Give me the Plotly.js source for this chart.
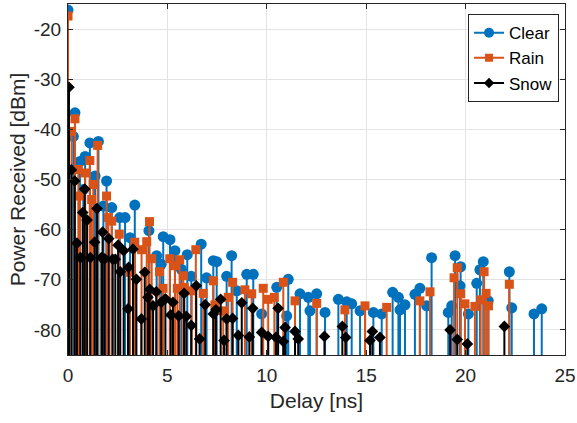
<!DOCTYPE html>
<html>
<head>
<meta charset="utf-8">
<script src="https://cdn.plot.ly/plotly-3.0.1.min.js"></script>
<style>html,body{margin:0;padding:0;background:#fff;}#chart{width:577px;height:423px;}</style>
</head>
<body>
<div id="chart"></div>
<script>
// Delay [ns] and received power [dBm] for each weather condition
const clearDelay = [0,0.27,0.35,0.6,0.77,0.86,1.1,1.36,1.53,1.78,1.94,2.2,2.6,2.87,3.12,3.36,4.07,4.46,4.69,4.79,5.13,5.38,5.7,6.0,6.2,6.7,6.97,7.31,7.48,7.98,8.23,8.49,8.99,9.32,9.74,10.5,11.0,11.08,11.67,12.09,12.17,12.51,12.93,13.6,14.02,14.27,14.69,15.36,15.78,16.33,16.62,16.7,16.95,17.45,17.7,18.04,18.29,19.13,19.3,19.47,19.72,19.75,20.14,20.56,20.72,20.89,21.14,22.2,22.32,23.44,23.83];
const clearPower = [-16.2,-41.4,-36.7,-46.4,-52,-45.4,-42.7,-49.3,-42.4,-55.3,-50.3,-55.6,-57.6,-57.6,-61.6,-55.1,-60.2,-65.2,-66.9,-61.4,-62,-64.2,-67.9,-65,-69.3,-62.9,-69.6,-66.2,-66.4,-69.3,-65.2,-72.2,-68.9,-68.9,-76.8,-71.5,-77.2,-69.9,-72.8,-73.5,-76.2,-72.8,-76.5,-73.9,-74.4,-74.8,-76.2,-76.5,-76.8,-72.5,-73.5,-76,-75,-72.9,-71.7,-75.2,-65.6,-76.5,-75.2,-65.2,-71.2,-67.4,-76.8,-70.7,-68,-66.4,-74.2,-68.4,-75.6,-76.8,-75.8];

const rainDelay = [0,0.18,0.35,0.52,0.6,0.86,1.1,1.19,1.27,1.49,1.94,2.03,2.2,2.58,3.12,3.36,3.7,3.96,4.1,4.21,4.6,4.78,5.12,5.38,5.5,5.62,5.8,5.85,6.22,6.43,6.8,7.31,7.39,7.81,8.06,8.28,8.9,9.24,9.82,10.07,10.38,10.83,11.42,12.51,13.93,14.94,16.03,17.7,18.21,19.42,19.58,19.75,19.97,20.47,20.76,20.93,21.03,21.15,22.2];
const rainPower = [-17.4,-40.4,-37.9,-48,-53.3,-48.7,-46.2,-54,-51,-43.2,-53.3,-57.6,-58.3,-60.9,-68.5,-62.5,-64,-62.4,-58.4,-65.8,-68.4,-71.7,-65.8,-67.2,-71.7,-66,-69.2,-71.5,-72.2,-64,-72.7,-70.2,-75,-76.2,-73.5,-70.5,-72,-72.8,-71.7,-73.9,-73.5,-70.5,-74.2,-74.7,-76,-75.2,-75.5,-74.2,-72.4,-69.6,-67.6,-72.8,-74.8,-75.3,-74,-68.4,-72.7,-75.2,-70.9];

const snowDelay = [0.05,0.17,0.34,0.45,0.62,0.74,0.84,0.96,1.12,1.34,1.46,1.68,1.74,1.85,2.05,2.25,2.38,2.52,2.63,2.8,3.02,3.05,3.27,3.44,3.69,3.86,4.02,4.11,4.28,4.44,4.69,4.9,5.17,5.28,5.57,5.84,5.95,6.2,6.45,6.62,6.9,7.31,7.44,7.68,7.85,7.98,8.28,8.57,8.74,9.12,9.29,9.74,10.07,10.46,10.57,10.83,10.92,11.42,11.58,12.9,13.8,13.97,15.19,15.31,15.69,19.22,19.58,20.09,21.95];
const snowPower = [-31.6,-48.1,-50.3,-62.7,-65.6,-56.6,-51.9,-58.1,-65.6,-62.5,-55.8,-65.6,-60.5,-65.8,-61.8,-65.9,-65.9,-63.1,-68.4,-64.2,-75.8,-67.5,-63.9,-69.9,-77.8,-68.5,-73.5,-71.9,-75.2,-72.4,-74.5,-73.8,-77,-74.5,-77.2,-72.7,-77.3,-79.1,-71.2,-81.8,-75,-76.8,-76,-73.9,-82.1,-77.8,-77.7,-81.1,-74.6,-81.4,-75.7,-80.5,-81.3,-81.5,-75.7,-82.3,-79.5,-80.3,-81.8,-81.3,-79.3,-81.5,-82.1,-80.3,-81.5,-80,-81.9,-82.8,-79.3];

const seriesNames = ['Clear','Rain','Snow'];
const xTicks = [0,5,10,15,20,25];
const yTicks = [-80,-70,-60,-50,-40,-30,-20];
const yTickText = ['-80','-70','-60','-50','-40','-30','-20'];

const colors = ['#0072BD','#D95319','#000000'];
const symbols = ['circle','square','diamond'];
const sizes = [11,9,9];
const stemBase = -200; // stems run down past the bottom of the axes (clipped)
const data = [[clearDelay,clearPower],[rainDelay,rainPower],[snowDelay,snowPower]];

const traces = [];
data.forEach(function(d,k){
  const xs=[], ys=[];
  for (let i=0;i<d[0].length;i++){ xs.push(d[0][i],d[0][i],null); ys.push(stemBase,d[1][i],null); }
  traces.push({x:xs,y:ys,type:'scatter',mode:'lines',line:{color:colors[k],width:2},showlegend:false,hoverinfo:'skip'});
  traces.push({x:d[0],y:d[1],type:'scatter',mode:'markers',marker:{color:colors[k],symbol:symbols[k],size:sizes[k],line:{width:0}},showlegend:false,cliponaxis:true});
});
seriesNames.forEach(function(n,k){
  traces.push({x:[null],y:[null],type:'scatter',mode:'lines+markers',name:n,line:{color:colors[k],width:2},marker:{color:colors[k],symbol:symbols[k],size:sizes[k]-1}});
});

const axisCommon = {showline:true,mirror:'ticks',linecolor:'#262626',linewidth:1,ticks:'inside',ticklen:5,tickcolor:'#262626',showgrid:true,gridcolor:'#e3e3e3',gridwidth:1,zeroline:false,tickfont:{family:'Liberation Sans, Arial, sans-serif',size:19,color:'#262626'}};

const layout = {
  width:577,height:423,
  margin:{l:68,r:12,t:4,b:68},
  paper_bgcolor:'#ffffff',plot_bgcolor:'#ffffff',
  font:{family:'Liberation Sans, Arial, sans-serif',color:'#262626'},
  xaxis:Object.assign({},axisCommon,{range:[0,25],tickvals:xTicks,ticklabelstandoff:3,title:{text:'Delay [ns]',font:{size:21,color:'#262626'},standoff:8}}),
  yaxis:Object.assign({},axisCommon,{range:[-85,-15],tickvals:yTicks,ticktext:yTickText,ticklabelstandoff:2,title:{text:'Power Received [dBm]',font:{size:21,color:'#262626'},standoff:2}}),
  legend:{x:0.988,y:0.971,xanchor:'right',yanchor:'top',bgcolor:'#ffffff',bordercolor:'#262626',borderwidth:1,font:{size:17,color:'#000000'},itemwidth:30,tracegroupgap:0},
  showlegend:true
};

Plotly.newPlot('chart',traces,layout,{displayModeBar:false,staticPlot:true});
</script>
</body>
</html>
